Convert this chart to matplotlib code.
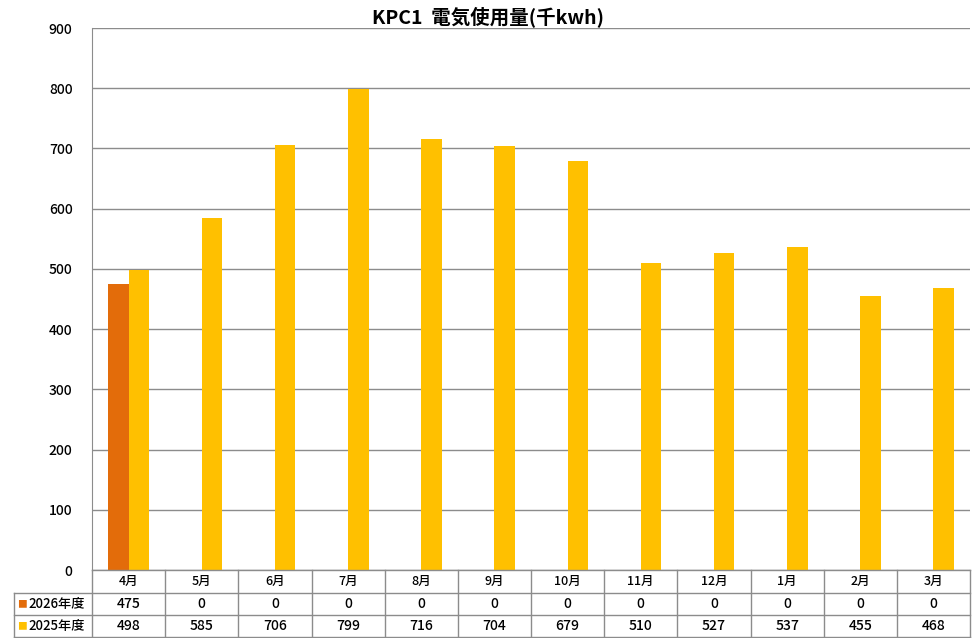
import matplotlib.pyplot as plt
import numpy as np

plt.rcParams['font.family'] = ['Noto Sans CJK JP', 'DejaVu Sans']

months = ["4月", "5月", "6月", "7月", "8月", "9月", "10月", "11月", "12月", "1月", "2月", "3月"]
fy2026 = [475, 0, 0, 0, 0, 0, 0, 0, 0, 0, 0, 0]
fy2025 = [498, 585, 706, 799, 716, 704, 679, 510, 527, 537, 455, 468]
series_names = ["2026年度", "2025年度"]
colors = ["#E36C0A", "#FFC000"]

W, H = 976, 638
fig = plt.figure(figsize=(W / 100, H / 100), dpi=100)
x0, x1, ytop, ybot = 92, 970, 28, 570
ax = fig.add_axes([x0 / W, 1 - ybot / H, (x1 - x0) / W, (ybot - ytop) / H])

x = np.arange(len(months))
bw = 0.28
ax.bar(x - bw / 2, fy2026, bw, color=colors[0], zorder=3)
ax.bar(x + bw / 2, fy2025, bw, color=colors[1], zorder=3)
ax.set_xlim(-0.5, len(months) - 0.5)
ax.set_ylim(0, 900)
ax.set_yticks(range(0, 901, 100))
ax.yaxis.grid(True, color="#8c8c8c", lw=1, zorder=0)
ax.set_xticks([])
ax.tick_params(axis="y", length=0, labelsize=10, pad=14)
for lbl in ax.get_yticklabels():
    lbl.set_fontweight("medium")
for s in ["top", "right", "bottom"]:
    ax.spines[s].set_visible(False)
ax.spines["left"].set_color("#8c8c8c")
fig.text(0.5, 1 - 17 / H, "KPC1  電気使用量(千kwh)", ha="center", va="center",
         fontsize=14, fontweight="bold")

# data table below the axes
rows_y = [570, 593, 615, 637]
line_kw = dict(color="#8c8c8c", lw=1)
def fx(px):
    return px / W
def fy(py):
    return 1 - py / H
col_w = (x1 - x0) / len(months)
for i, py in enumerate(rows_y):
    left = x0 if i == 0 else 14
    fig.add_artist(plt.Line2D([fx(left), fx(x1)], [fy(py), fy(py)], **line_kw))
fig.add_artist(plt.Line2D([fx(14), fx(14)], [fy(593), fy(637)], **line_kw))
for j in range(len(months) + 1):
    px = x0 + j * col_w
    fig.add_artist(plt.Line2D([fx(px), fx(px)], [fy(570), fy(637)], **line_kw))
for j, m in enumerate(months):
    cx = x0 + (j + 0.5) * col_w
    fig.text(fx(cx), fy(581.5), m, ha="center", va="center", fontsize=9, fontweight="medium")
    fig.text(fx(cx), fy(604), str(fy2026[j]), ha="center", va="center", fontsize=10, fontweight="medium")
    fig.text(fx(cx), fy(626), str(fy2025[j]), ha="center", va="center", fontsize=10, fontweight="medium")
for name, c, py in zip(series_names, colors, [604, 626]):
    fig.text(fx(17), fy(py), "■", color=c, ha="left", va="center", fontsize=7)
    fig.text(fx(28), fy(py), name, ha="left", va="center", fontsize=9.5, fontweight="medium")

fig.savefig("out.png", dpi=100)
